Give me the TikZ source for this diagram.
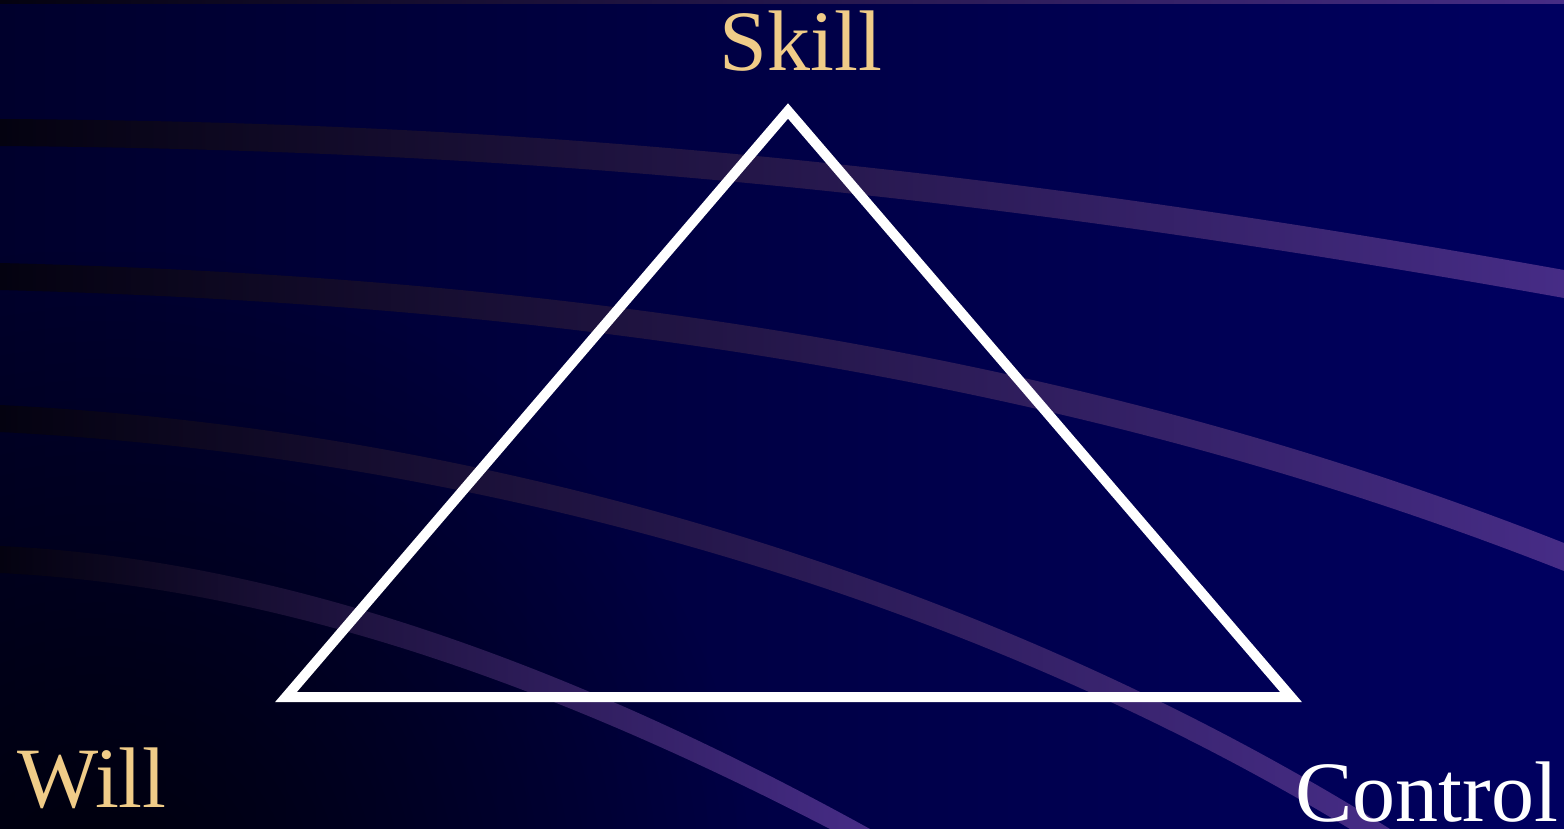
\documentclass[tikz,border=0pt]{standalone}
\usepackage{fontspec}
\setmainfont{Liberation Serif}
\usetikzlibrary{fadings}
\definecolor{bgl}{RGB}{0,0,44}
\definecolor{bgr}{RGB}{0,0,96}
\definecolor{stl}{RGB}{4,2,16}
\definecolor{str}{RGB}{70,44,134}
\definecolor{gold}{RGB}{240,204,136}
\tikzfading[name=softcirc, inner color=transparent!0, outer color=transparent!100]
\tikzset{
  stripe/.style={left color=stl, right color=str, draw=none},
  tri/.style={draw=white, line width=10pt, line join=miter},
  lbl/.style={font=\fontsize{86}{86}\selectfont, inner sep=0pt, anchor=base}
}
\begin{document}
\begin{tikzpicture}[x=1pt,y=-1pt]
\useasboundingbox (0,0) rectangle (1564,829);
\begin{scope}
\clip (0,0) rectangle (1564,829);
\shade[left color=bgl, right color=bgr] (0,0) rectangle (1564,829);
% darker bottom-left
\fill[black, opacity=0.75, path fading=softcirc] (-550,250) rectangle (750,1550);
% top thin stripe
\shade[stripe] (0,0) rectangle (1564,4);
% stripes (upper curve, then lower curve back)
\shade[stripe] (0,119) .. controls (500,122) and (950,160) .. (1564,270)
  -- (1564,298) .. controls (950,188) and (500,150) .. (0,146) -- cycle;
\shade[stripe] (0,263) .. controls (600,278) and (1100,360) .. (1564,543)
  -- (1564,571) .. controls (1100,388) and (600,306) .. (0,290) -- cycle;
\shade[stripe] (0,405) .. controls (500,430) and (1000,585) .. (1390,829)
  -- (1350,829) .. controls (980,605) and (500,458) .. (0,432) -- cycle;
\shade[stripe] (0,546) .. controls (300,560) and (600,680) .. (870,829)
  -- (830,829) .. controls (580,700) and (300,588) .. (0,573) -- cycle;
\end{scope}
% triangle
\node[coordinate] (top) at (788,111) {};
\node[coordinate] (bl) at (286,697) {};
\node[coordinate] (br) at (1291,697) {};
\draw[tri] (top) -- (bl) -- (br) -- cycle;
% labels
\node[lbl, text=gold] (skill) at (801,71) {Skill};
\node[lbl, text=gold] (will) at (92,807) {Will};
\node[lbl, text=white] (control) at (1427,821) {Control};
\end{tikzpicture}
\end{document}
